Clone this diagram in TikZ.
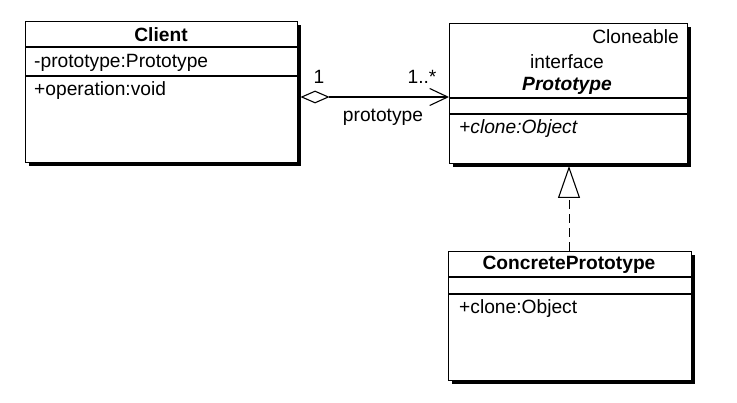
\documentclass[tikz,border=0pt]{standalone}
\usepackage{fontspec}
\setmainfont{Liberation Sans}
\usetikzlibrary{arrows.meta,shapes.geometric,shadows}
\begin{document}
\begin{tikzpicture}[x=1pt,y=-1pt,
  font=\fontsize{19.2}{22}\selectfont,
  umlbox/.style={draw, line width=1.3pt, fill=white, inner sep=0pt, anchor=north west,
    drop shadow={shadow xshift=3.5pt, shadow yshift=-3.5pt, fill=black, opacity=1}},
  sep/.style={line width=1.1pt},
  txt/.style={inner sep=0pt}]
\useasboundingbox[fill=white] (0,0) rectangle (737,403);
% boxes
\node[umlbox, minimum width=272pt, minimum height=141pt] (client) at (25,21) {};
\node[umlbox, minimum width=238pt, minimum height=140pt] (proto) at (449,23) {};
\node[umlbox, minimum width=243pt, minimum height=129pt] (conc) at (448,251) {};
% separators
\draw[sep] (client.west |- 0,47) -- (client.east |- 0,47);
\draw[sep] (client.west |- 0,76) -- (client.east |- 0,76);
\draw[sep] (proto.west |- 0,98) -- (proto.east |- 0,98);
\draw[sep] (proto.west |- 0,114) -- (proto.east |- 0,114);
\draw[sep] (conc.west |- 0,277) -- (conc.east |- 0,277);
\draw[sep] (conc.west |- 0,294) -- (conc.east |- 0,294);
% texts
\node[txt] (ctitle) at (161,35) {\bfseries Client};
\node[txt, anchor=west] (cattr) at (34,63) {-prototype:Prototype};
\node[txt, anchor=west] (cop) at (34,91) {+operation:void};
\node[txt, anchor=east] (pclone) at (679,37) {Cloneable};
\node[txt] (pinter) at (567,62) {interface};
\node[txt] (ptitle) at (567,86) {\bfseries\itshape Prototype};
\node[txt, anchor=west] (pop) at (459,129) {\itshape +clone:Object};
\node[txt] (ktitle) at (569,265) {\bfseries ConcretePrototype};
\node[txt, anchor=west] (kop) at (459,309) {+clone:Object};
% association
\node[diamond, draw, line width=1.1pt, fill=white, minimum width=27pt, minimum height=12pt,
  inner sep=0pt, anchor=west] (dia) at (301,97) {};
\draw[line width=1.1pt, -{Straight Barb[length=18pt,width=17pt,line width=1.1pt]}]
  (dia.east) -- (dia.east -| proto.west);
\node[txt] (m1) at (319,77) {1};
\node[txt] (m2) at (422,77) {1..*};
\node[txt] (role) at (383,117) {prototype};
% realization
\draw[line width=1pt, dash pattern=on 9pt off 5pt,
  -{Triangle[open,length=32pt,width=22pt,line width=1.1pt]}]
  (conc.north -| 569,0) -- (569,166);
\end{tikzpicture}
\end{document}
